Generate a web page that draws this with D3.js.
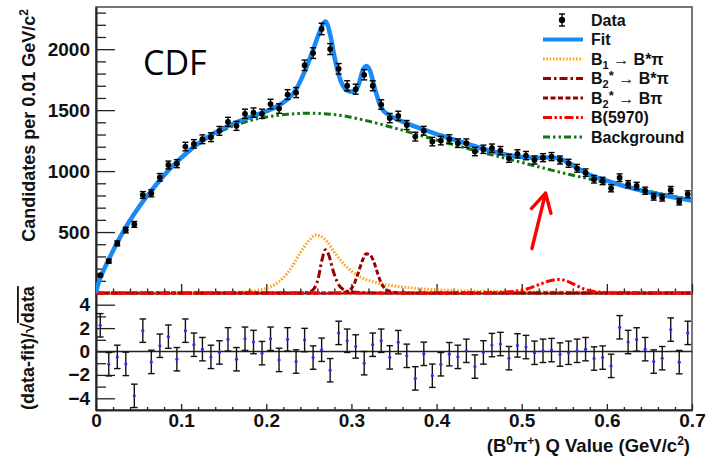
<!DOCTYPE html>
<html><head><meta charset="utf-8">
<script src="https://cdn.jsdelivr.net/npm/d3@7"></script>
<style>
body{margin:0;background:#fff}
svg{display:block;font-family:"Liberation Sans",Arial,Helvetica,sans-serif}
</style>
</head><body>
<svg id="c" width="714" height="459"></svg>
<script>
// ---------- data ----------
const binQ = [0.005,0.015,0.025,0.035,0.045,0.055,0.065,0.075,0.085,0.095,
  0.105,0.115,0.125,0.135,0.145,0.155,0.165,0.175,0.185,0.195,
  0.205,0.215,0.225,0.235,0.245,0.255,0.265,0.275,0.285,0.295,
  0.305,0.315,0.325,0.335,0.345,0.355,0.365,0.375,0.385,0.395,
  0.405,0.415,0.425,0.435,0.445,0.455,0.465,0.475,0.485,0.495,
  0.505,0.515,0.525,0.535,0.545,0.555,0.565,0.575,0.585,0.595,
  0.605,0.615,0.625,0.635,0.645,0.655,0.665,0.675,0.685,0.695];
const counts = [146,261,407,516,563,804,818,949,1050,1061,
  1201,1223,1261,1278,1330,1404,1371,1470,1480,1470,
  1550,1513,1628,1644,1868,1968,2166,2001,1839,1700,
  1672,1790,1700,1546,1435,1453,1378,1283,1331,1242,
  1250,1262,1229,1229,1160,1179,1188,1168,1105,1141,
  1127,1091,1110,1119,1091,1064,1023,987,933,919,
  859,946,892,878,839,790,782,845,749,810];
const countErr = [12,16,20,23,24,28,29,31,32,33,
  35,35,36,36,36,37,37,38,38,38,
  39,39,40,41,43,44,47,45,43,41,
  41,42,41,39,38,38,37,36,36,35,
  35,36,35,35,34,34,34,34,33,34,
  34,33,33,33,33,33,32,31,31,30,
  29,31,30,30,29,28,28,29,27,28];
const pulls = [2.24,-1.09,-0.46,-1.06,-3.79,1.78,-0.89,0.49,1.27,-0.66,
  1.78,0.58,0.2,-0.46,-0.08,1.04,-0.66,1.09,0.81,-0.14,
  1.09,-0.72,1.04,-0.86,0.98,-0.52,0.15,-1.6,1.59,0.92,
  0.43,-1.0,0.58,0.92,-0.5,0.8,-0.37,-2.3,-0.2,-2.07,
  -1.09,-0.23,-0.46,0.06,-1.29,-0.08,0.55,0.64,-0.57,0.52,
  0.38,-0.11,0.06,0.12,-0.26,-0.11,0.06,0.2,-0.6,-0.52,
  -1.23,2.07,0.81,1.03,0.2,-0.86,-0.57,1.87,-0.91,1.59];
const pullErr = 1;

const fitQ = [0,0.0025,0.005,0.015,0.025,0.035,0.045,0.055,0.065,0.075,0.085,0.095,0.105,0.115,0.125,0.135,0.145,0.155,0.165,0.175,0.185,0.195,0.205,0.215,0.225,0.235,0.245,0.255,
  0.262,0.2695,0.275,0.28,0.285,0.29,0.295,0.302,0.308,0.3135,0.318,0.322,0.327,
  0.335,0.345,0.355,0.365,0.375,0.385,0.395,0.405,0.415,0.425,0.435,0.445,0.455,0.465,0.475,0.485,0.495,0.505,0.515,0.525,0.535,0.545,0.555,0.565,0.575,0.585,0.595,0.605,0.615,0.625,0.635,0.645,0.655,0.665,0.675,0.685,0.695,0.7];
const fitY = [0,72,122,275,415,540,650,750,840,925,1005,1075,1140,1200,1250,1295,1335,1370,1400,1428,1452,1477,1505,1540,1590,1670,1815,1995,
  2130,2228,2120,1940,1790,1700,1660,1650,1700,1830,1862,1820,1690,
  1520,1455,1420,1392,1365,1340,1316,1292,1270,1248,1226,1205,1183,1163,1145,1130,1120,1112,1108,1110,1112,1100,1070,1025,985,955,932,910,888,868,850,832,818,804,790,777,764,758];

const bgQ = [0,0.0025,0.005,0.015,0.025,0.035,0.045,0.055,0.065,0.075,0.085,0.095,0.105,0.115,0.125,0.135,0.145,0.155,0.165,0.175,0.185,0.195,0.205,0.215,0.225,0.235,0.245,0.255,0.265,0.275,0.285,0.295,0.305,0.315,0.325,0.335,0.345,0.355,0.365,0.375,0.385,0.395,0.405,0.415,0.425,0.435,0.445,0.455,0.465,0.475,0.485,0.495,0.505,0.515,0.525,0.535,0.545,0.555,0.565,0.575,0.585,0.595,0.605,0.615,0.625,0.635,0.645,0.655,0.665,0.675,0.685,0.695,0.7];
const bgY = [0,72,122,275,415,540,650,750,840,925,1005,1074,1137,1194,1243,1285,1322,1354,1381,1403,1422,1437,1449,1459,1466,1471,1474,1474,1472,1467,1459,1448,1434,1418,1401,1383,1364,1345,1325,1305,1285,1265,1245,1226,1207,1188,1170,1152,1134,1116,1098,1080,1062,1044,1026,1008,991,974,958,942,927,912,898,884,869,855,840,826,812,798,784,771,758,752];

const b1Q = [0,0.1,0.14,0.17,0.19,0.2,0.21,0.22,0.23,0.24,0.25,0.258,0.265,0.272,0.28,0.29,0.3,0.31,0.32,0.335,0.35,0.37,0.39,0.42,0.46,0.5,0.6,0.7];
const b1Y = [0,0,2,8,22,40,70,125,215,330,430,476,462,415,335,245,180,132,104,76,58,42,30,20,13,10,6,4];

const b2sQ = [0,0.24,0.25,0.256,0.261,0.265,0.2695,0.274,0.278,0.283,0.29,0.3,0.32,0.34,0.7];
const b2sY = [0,0,8,35,120,260,355,300,195,95,30,8,2,0,0];

const b2Q = [0,0.28,0.29,0.298,0.303,0.308,0.313,0.3175,0.322,0.326,0.33,0.335,0.34,0.348,0.36,0.7];
const b2Y = [0,0,4,22,72,165,268,322,312,262,178,82,32,8,1,0];

const b5970Q = [0,0.44,0.47,0.49,0.505,0.52,0.532,0.543,0.553,0.563,0.573,0.585,0.6,0.62,0.7];
const b5970Y = [0,0,4,13,32,68,98,111,98,66,34,12,3,0,0];

const mainYTicks = [500,1000,1500,2000];
const pullYTicks = [-4,-2,0,2,4];
const xTicks = [0,0.1,0.2,0.3,0.4,0.5,0.6,0.7];
const arrowTail = [0.512,365], arrowTip = [0.528,820];

// ---------- layout ----------
const L=96,R=692,T=7,MB=293,RB=410;
const FONT='"Liberation Sans",Arial,Helvetica,sans-serif';
const svg=d3.select('#c');
const x=d3.scaleLinear().domain([0,0.7]).range([L,R]);
const y=d3.scaleLinear().domain([0,2346]).range([MB,T]);
const yr=d3.scaleLinear().domain([-5,5]).range([RB,MB]);

svg.append('defs').append('clipPath').attr('id','clipMain')
  .append('rect').attr('x',L).attr('y',T).attr('width',R-L).attr('height',MB-T+3);

// frame
svg.append('rect').attr('x',L).attr('y',T).attr('width',R-L).attr('height',RB-T)
  .attr('fill','none').attr('stroke','#555').attr('stroke-width',1.6);

function styleAxis(g,sw){
  g.selectAll('path.domain').attr('stroke','#222').attr('stroke-width',sw||1.6);
  g.selectAll('.tick line').attr('stroke','#222').attr('stroke-width',1.3);
  g.selectAll('.tick text').attr('fill','#111').attr('font-family',FONT)
    .attr('font-weight','bold').attr('font-size',19);
}
// main y axis
const minorY=d3.range(100,2346,100).filter(v=>v%500!==0);
styleAxis(svg.append('g').attr('transform',`translate(${L},0)`)
  .call(d3.axisLeft(y).tickValues(minorY).tickSizeInner(-10).tickSizeOuter(0).tickFormat('')));
styleAxis(svg.append('g').attr('transform',`translate(${L},0)`)
  .call(d3.axisLeft(y).tickValues(mainYTicks).tickSizeInner(-19).tickSizeOuter(0).tickPadding(6).tickFormat(d3.format('d'))));
// main x axis (no labels)
const minorX=d3.range(0.02,0.7,0.02).filter(v=>Math.abs(v*10-Math.round(v*10))>1e-6);
styleAxis(svg.append('g').attr('transform',`translate(0,${MB})`)
  .call(d3.axisBottom(x).tickValues(minorX).tickSizeInner(-4.5).tickSizeOuter(0).tickFormat('')));
styleAxis(svg.append('g').attr('transform',`translate(0,${MB})`)
  .call(d3.axisBottom(x).tickValues(xTicks).tickSizeInner(-9).tickSizeOuter(0).tickFormat('')));
// residual y axis
styleAxis(svg.append('g').attr('transform',`translate(${L},0)`)
  .call(d3.axisLeft(yr).tickValues([-5,-3,-1,1,3,5]).tickSizeInner(-10).tickSizeOuter(0).tickFormat('')));
styleAxis(svg.append('g').attr('transform',`translate(${L},0)`)
  .call(d3.axisLeft(yr).tickValues(pullYTicks).tickSizeInner(-19).tickSizeOuter(0).tickPadding(6).tickFormat(d3.format('d'))));
// residual x axis
styleAxis(svg.append('g').attr('transform',`translate(0,${RB})`)
  .call(d3.axisBottom(x).tickValues(minorX).tickSizeInner(-3).tickSizeOuter(0).tickFormat('')));
const gx=svg.append('g').attr('transform',`translate(0,${RB})`)
  .call(d3.axisBottom(x).tickValues(xTicks).tickSizeInner(-6).tickSizeOuter(0).tickPadding(4).tickFormat(d=>d===0?'0':d3.format('.1f')(d)));
styleAxis(gx);

// ---------- curves ----------
const plot=svg.append('g').attr('clip-path','url(#clipMain)');
function curve(qs,vs,color,w,dash){
  const pts=qs.map((q,i)=>[q,vs[i]]);
  plot.append('path').datum(pts)
    .attr('d',d3.line().x(d=>x(d[0])).y(d=>y(d[1])).curve(d3.curveMonotoneX))
    .attr('fill','none').attr('stroke',color).attr('stroke-width',w)
    .attr('stroke-dasharray',dash||null);
}
const C={fit:'#1a8af5',b1:'#ffa21c',b2s:'#990000',b2:'#990000',b5970:'#ff0000',bg:'#127512'};
const D={b1:'1.6,1.7',b2s:'8,3,2.5,3',b2:'5,2.5',b5970:'9,2.5,2.5,2.5,2.5,2.5',bg:'7,3,2.5,3,2.5,3'};
curve(bgQ,bgY,C.bg,3,D.bg);
curve(b1Q,b1Y,C.b1,3,D.b1);
curve(b2sQ,b2sY,C.b2s,3,D.b2s);
curve(b2Q,b2Y,C.b2,3,D.b2);
curve(b5970Q,b5970Y,C.b5970,3,D.b5970);
curve(fitQ,fitY,C.fit,4.5,null);

// data points
const pts=svg.append('g');
binQ.forEach((q,i)=>{
  const cx=x(q), lo=y(counts[i]-countErr[i]), hi=y(counts[i]+countErr[i]);
  pts.append('line').attr('x1',cx).attr('x2',cx).attr('y1',lo).attr('y2',hi).attr('stroke','#000').attr('stroke-width',1.4);
  [lo,hi].forEach(v=>pts.append('line').attr('x1',cx-3).attr('x2',cx+3).attr('y1',v).attr('y2',v).attr('stroke','#000').attr('stroke-width',1.4));
  pts.append('circle').attr('cx',cx).attr('cy',y(counts[i])).attr('r',2.9).attr('fill','#000');
});

// residual panel
svg.append('line').attr('x1',L).attr('x2',R).attr('y1',yr(0)).attr('y2',yr(0)).attr('stroke','#222').attr('stroke-width',1.5);
const rp=svg.append('g');
binQ.forEach((q,i)=>{
  const cx=x(q), lo=yr(pulls[i]-pullErr), hi=yr(pulls[i]+pullErr);
  rp.append('line').attr('x1',cx).attr('x2',cx).attr('y1',lo).attr('y2',hi).attr('stroke','#111').attr('stroke-width',1.4);
  [lo,hi].forEach(v=>rp.append('line').attr('x1',cx-3.3).attr('x2',cx+3.3).attr('y1',v).attr('y2',v).attr('stroke','#111').attr('stroke-width',1.4));
  rp.append('circle').attr('cx',cx).attr('cy',yr(pulls[i])).attr('r',1.6).attr('fill','#2b2bff');
});

// ---------- texts ----------
svg.append('text').attr('transform','translate(35,9) rotate(-90)').attr('text-anchor','end')
  .attr('font-family',FONT).attr('font-weight','bold').attr('font-size',18).attr('fill','#111')
  .html('Candidates per 0.01 GeV/c<tspan dy="-7" font-size="12">2</tspan>');
const rt=svg.append('text').attr('transform','translate(34,410) rotate(-90)').attr('text-anchor','start')
  .attr('font-family',FONT).attr('font-weight','bold').attr('font-size',18).attr('fill','#111')
  .html('(data-fit)/√<tspan text-decoration="overline">data</tspan>');
svg.append('text').attr('x',690).attr('y',452).attr('text-anchor','end')
  .attr('font-family',FONT).attr('font-weight','bold').attr('font-size',18.5).attr('fill','#111')
  .html('(B<tspan dy="-7" font-size="12">0</tspan><tspan dy="7">π</tspan><tspan dy="-7" font-size="12">+</tspan><tspan dy="7">) Q Value (GeV/c</tspan><tspan dy="-7" font-size="12">2</tspan><tspan dy="7">)</tspan>');
svg.append('text').attr('x',143).attr('y',75)
  .attr('font-family','"Open Sans","Noto Sans",sans-serif').attr('font-size',34).attr('fill','#000').text('CDF');

// arrow
const tx=x(arrowTail[0]),ty=y(arrowTail[1]),hx=x(arrowTip[0]),hy=y(arrowTip[1]);
const ang=Math.atan2(ty-hy,tx-hx);
const wl=21,wa=0.5;
svg.append('path').attr('d',`M${tx},${ty}L${hx},${hy}M${hx+wl*Math.cos(ang+wa)},${hy+wl*Math.sin(ang+wa)}L${hx},${hy}L${hx+wl*Math.cos(ang-wa)},${hy+wl*Math.sin(ang-wa)}`)
  .attr('fill','none').attr('stroke','#ff0000').attr('stroke-width',3.4).attr('stroke-linecap','round').attr('stroke-linejoin','round');

// ---------- legend ----------
const legRows=[
  {k:'data',label:'Data'},
  {k:'fit',label:'Fit'},
  {k:'b1',label:'B<tspan dy="4" font-size="11">1</tspan><tspan dy="-4"> → B*π</tspan>'},
  {k:'b2s',label:'B<tspan dy="4" font-size="11">2</tspan><tspan dy="-8" font-size="13">*</tspan><tspan dy="4"> → B*π</tspan>'},
  {k:'b2',label:'B<tspan dy="4" font-size="11">2</tspan><tspan dy="-8" font-size="13">*</tspan><tspan dy="4"> → Bπ</tspan>'},
  {k:'b5970',label:'B(5970)'},
  {k:'bg',label:'Background'}
];
const leg=svg.append('g');
legRows.forEach((r,i)=>{
  const cy=20+i*19.5;
  if(r.k==='data'){
    leg.append('line').attr('x1',562).attr('x2',562).attr('y1',cy-6).attr('y2',cy+6).attr('stroke','#000').attr('stroke-width',1.4);
    [cy-6,cy+6].forEach(v=>leg.append('line').attr('x1',559).attr('x2',565).attr('y1',v).attr('y2',v).attr('stroke','#000').attr('stroke-width',1.4));
    leg.append('circle').attr('cx',562).attr('cy',cy).attr('r',3.2).attr('fill','#000');
  } else {
    leg.append('line').attr('x1',543).attr('x2',583).attr('y1',cy).attr('y2',cy)
      .attr('stroke',C[r.k]).attr('stroke-width',r.k==='fit'?4:3).attr('stroke-dasharray',D[r.k]||null);
  }
  leg.append('text').attr('x',591).attr('y',cy+5.5).attr('font-family',FONT).attr('font-weight','bold')
    .attr('font-size',16).attr('fill','#111').html(r.label);
});
</script>
</body></html>
